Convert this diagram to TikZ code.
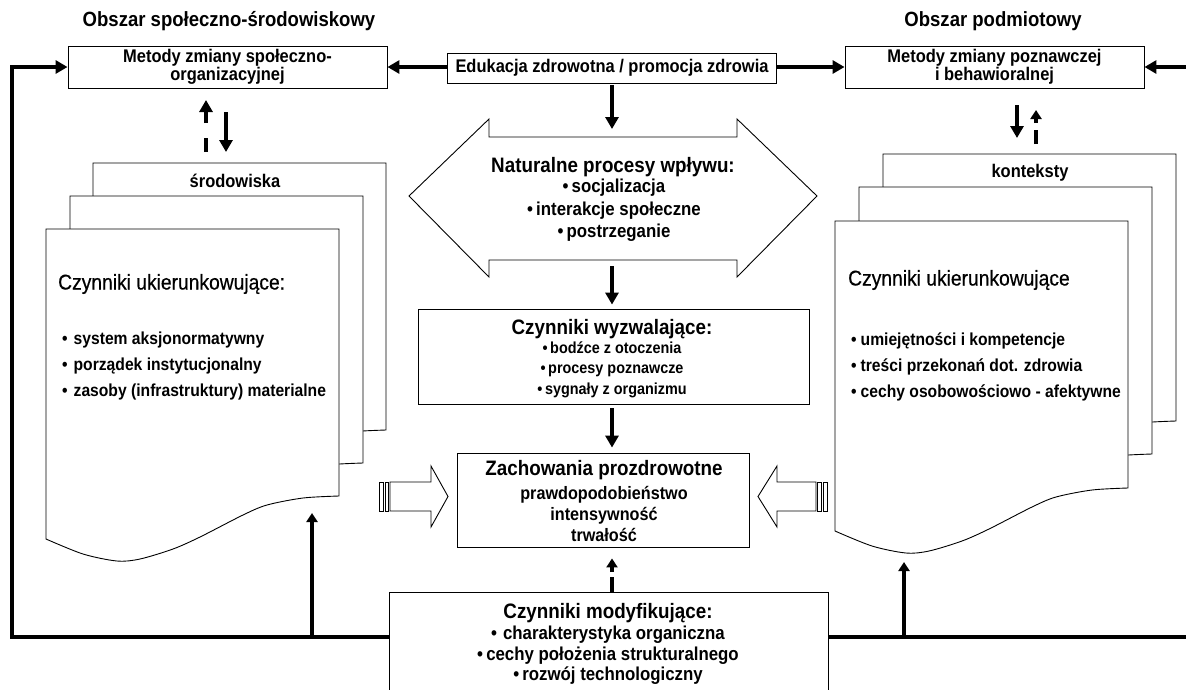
\documentclass[tikz,border=0pt]{standalone}
\usepackage{fontspec}
\setmainfont{Liberation Sans}[FakeStretch=0.9]
\newfontfamily\medfont{Liberation Sans}[FakeStretch=0.9, FakeBold=0.5]
\usetikzlibrary{arrows.meta}
\newcommand\myTitle{\fontsize{20.6}{24}\selectfont\bfseries}
\newcommand\myBox{\fontsize{18.3}{17.5}\selectfont\bfseries}
\newcommand\myHead{\fontsize{20.9}{24}\selectfont\bfseries}
\newcommand\myList{\fontsize{17.4}{26}\selectfont\bfseries}
\newcommand\myUk{\fontsize{21.4}{24}\selectfont\medfont}
\newcommand\myHex{\fontsize{18.7}{22.5}\selectfont\bfseries}
\newcommand\myWyz{\fontsize{16}{20.5}\selectfont\bfseries}
\newcommand\myZach{\fontsize{18}{21}\selectfont\bfseries}
\newcommand\myMod{\fontsize{18.7}{20.5}\selectfont\bfseries}
\begin{document}
\begin{tikzpicture}[x=1pt,y=-1pt, line join=miter,
  box/.style={draw, line width=0.9pt, fill=white, inner sep=0pt, align=center},
  bigarrow/.style={line width=3.6pt, -{Triangle[length=12pt,width=13pt]}},
  smallarrow/.style={line width=3.6pt, -{Triangle[length=9pt,width=11pt]}},
  heavyline/.style={line width=3.6pt},
  thinline/.style={draw, line width=0.9pt, fill=white},
  txt/.style={inner sep=0pt},
  docpage/.pic={\filldraw[thinline] (0,0) -- (293,0) -- (293,267) -- plot[smooth,tension=0.5] coordinates {(293,267) (257,269) (221,276) (197,286) (154,308) (127,320) (94,330) (71,332) (37,325) (0,310)} -- cycle;}
]
\useasboundingbox (0,0) rectangle (1186,689);

% titles
\node[txt, font=\myTitle] (t1) at (229,21) {Obszar społeczno-środowiskowy};
\node[txt, font=\myTitle] (t2) at (993,21) {Obszar podmiotowy};

% top boxes
\node[box, minimum width=319pt, minimum height=42pt, font=\myBox] (m1) at (227.5,67) {Metody zmiany społeczno-\\organizacyjnej};
\node[box, minimum width=329pt, minimum height=30pt, font=\myBox] (edu) at (612,68) {Edukacja zdrowotna / promocja zdrowia};
\node[box, minimum width=299pt, minimum height=42pt, font=\myBox] (m2) at (994.5,67) {Metody zmiany poznawczej\\i behawioralnej};

% left document stack
\pic at (93,163) {docpage};
\pic at (70,196) {docpage};
\pic at (46,229) {docpage};
\node[txt, font=\myBox] (srod) at (235,181) {środowiska};
\node[txt, font=\myUk, anchor=west] (ukL) at (58,284) {Czynniki ukierunkowujące:};
\node[txt, font=\myList, anchor=west, align=left] (listL) at (62,366) {•\hspace{6pt}system aksjonormatywny\\•\hspace{6pt}porządek instytucjonalny\\•\hspace{6pt}zasoby (infrastruktury) materialne};

% right document stack
\pic at (883,154) {docpage};
\pic at (859,187) {docpage};
\pic at (835,221) {docpage};
\node[txt, font=\myBox] (kont) at (1030,173) {konteksty};
\node[txt, font=\myUk, anchor=west] (ukR) at (848,280) {Czynniki ukierunkowujące};
\node[txt, font=\myList, anchor=west, align=left] (listR) at (851,366.5) {•\hspace{4pt}umiejętności i kompetencje\\•\hspace{4pt}treści przekonań dot. zdrowia\\•\hspace{4pt}cechy osobowościowo - afektywne};

% hexagon (double arrow)
\filldraw[thinline] (409,196) -- (489,119) -- (489,137) -- (737,137) -- (737,119) -- (817,196) -- (737,277) -- (737,260) -- (489,260) -- (489,277) -- cycle;
\coordinate (hexTop) at (612,137);
\coordinate (hexBot) at (612,260);
\node[txt, font=\myHead] (nat) at (613,167) {Naturalne procesy wpływu:};
\node[txt, font=\myHex, align=center] (natL) at (614,210.5) {•\,socjalizacja\\•\,interakcje społeczne\\•\,postrzeganie};

% wyzwalajace
\node[box, minimum width=391pt, minimum height=95pt] (wyz) at (613.5,356.5) {};
\node[txt, font=\myHead] (wyzH) at (612,329) {Czynniki wyzwalające:};
\node[txt, font=\myWyz, align=center] (wyzL) at (612,369.5) {•\,bodźce z otoczenia\\•\,procesy poznawcze\\•\,sygnały z organizmu};

% zachowania
\node[box, minimum width=292pt, minimum height=94pt] (zach) at (603,500) {};
\node[txt, font=\myHead] (zachH) at (604,470) {Zachowania prozdrowotne};
\node[txt, font=\myZach, align=center] (zachL) at (604,514) {prawdopodobieństwo\\intensywność\\trwałość};

% modyfikujace
\node[box, minimum width=439pt, minimum height=100pt, anchor=north] (mod) at (608.5,592) {};
\node[txt, font=\myHead] (modH) at (608,613) {Czynniki modyfikujące:};
\node[txt, font=\myMod, align=center] (modL) at (608,655.5) {•\hspace{6pt}charakterystyka organiczna\\•\,cechy położenia strukturalnego\\•\,rozwój technologiczny};

% hollow arrows into Zachowania
\filldraw[thinline] (379,482) rectangle (383,511);
\filldraw[thinline] (385,482) rectangle (388.5,511);
\filldraw[thinline] (390,482) -- (431,482) -- (431,466) -- (448,496.5) -- (431,527) -- (431,511) -- (390,511) -- cycle;
\filldraw[thinline] (827,482) rectangle (823,511);
\filldraw[thinline] (821,482) rectangle (817.5,511);
\filldraw[thinline] (816,482) -- (777,482) -- (777,466) -- (758,496.5) -- (777,527) -- (777,511) -- (816,511) -- cycle;

% outer frame lines
\coordinate (bl) at (12,637);
\coordinate (tl) at (12,67);
\coordinate (br) at (1186,637);
\coordinate (tr) at (1186,67);
\draw[bigarrow] (mod.west |- bl) -- (bl) -- (tl) -- (m1.west);
\draw[heavyline] (mod.east |- br) -- (br);
\draw[bigarrow] (tr) -- (m2.east);
\draw[bigarrow] (edu.west |- m1.east) -- (m1.east);
\draw[bigarrow] (edu.east |- m2.west) -- (m2.west);

% central arrows
\draw[bigarrow, shorten <=2pt, shorten >=8pt] (edu.south) -- (hexTop);
\draw[bigarrow, shorten <=6pt, shorten >=4pt] (hexBot) -- (hexBot |- wyz.north);
\draw[bigarrow, shorten <=4pt, shorten >=5pt] (wyz.south -| hexBot) -- (hexBot |- zach.north);
\draw[smallarrow, dash pattern=on 15pt off 5pt, shorten >=11pt] (mod.north -| hexBot) -- (hexBot |- zach.south);

% arrows between method boxes and stacks
\coordinate (lupA) at (206,152);
\coordinate (lupB) at (206,100);
\coordinate (ldnA) at (226,112);
\coordinate (ldnB) at (226,152);
\draw[bigarrow, dash pattern=on 14pt off 15pt] (lupA) -- (lupB);
\draw[bigarrow] (ldnA) -- (ldnB);
\coordinate (rdnA) at (1017,105);
\coordinate (rdnB) at (1017,138);
\coordinate (rupA) at (1036,144);
\coordinate (rupB) at (1036,110);
\draw[bigarrow] (rdnA) -- (rdnB);
\draw[smallarrow, dash pattern=on 14pt off 7pt] (rupA) -- (rupB);

% up arrows from bottom line
\coordinate (lup) at (312,513);
\coordinate (rup) at (904,562);
\draw[smallarrow] (lup |- bl) -- (lup);
\draw[smallarrow] (rup |- br) -- (rup);
\end{tikzpicture}
\end{document}
